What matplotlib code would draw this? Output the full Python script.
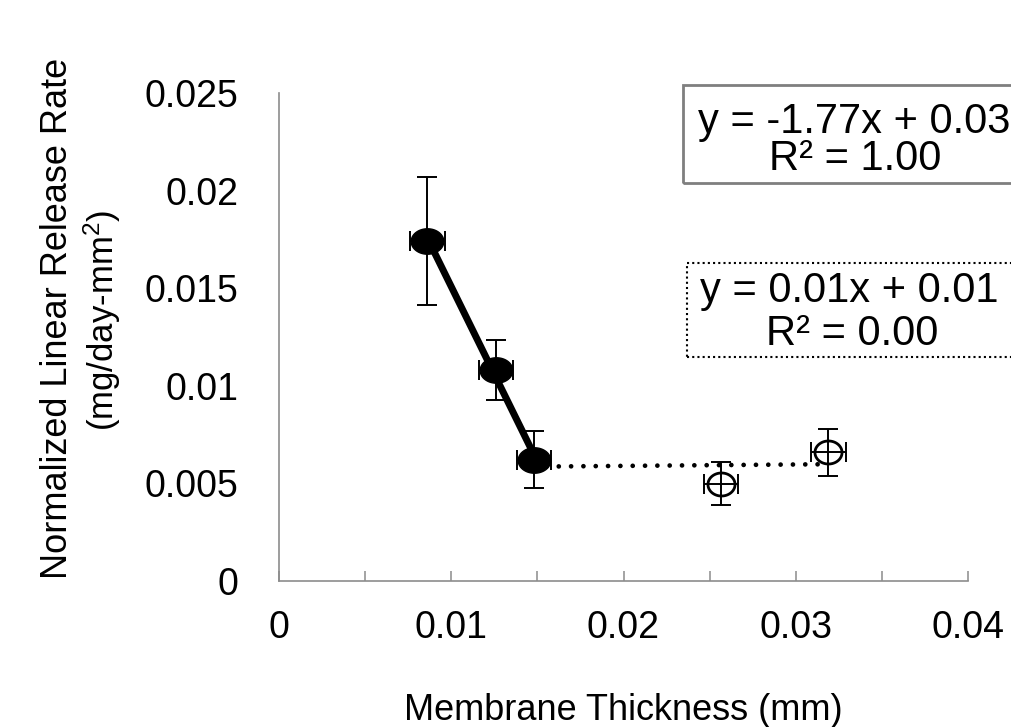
import matplotlib
matplotlib.use("Agg")
import matplotlib.pyplot as plt
import numpy as np
from matplotlib.path import Path
from matplotlib.patches import Rectangle
from matplotlib.ticker import MultipleLocator, FuncFormatter

# data
thick_solid = [0.00862, 0.0126, 0.01481]
rate_solid = [0.01742, 0.0108, 0.00621]
rate_solid_err = [0.0033, 0.00155, 0.00145]

thick_open = [0.02565, 0.0319]
rate_open = [0.00498, 0.00659]
rate_open_err = [0.0011, 0.0012]

thick_err = 0.001

eq_solid = ["y = -1.77x + 0.03", "R\u00b2 = 1.00"]
eq_dotted = ["y = 0.01x + 0.01", "R\u00b2 = 0.00"]

plt.rcParams['font.family'] = ['Liberation Sans', 'DejaVu Sans']
plt.rcParams['mathtext.default'] = 'regular'

W, H = 1011, 727
fig = plt.figure(figsize=(W / 100, H / 100), dpi=100)
ax = fig.add_axes([279 / W, 1 - 581 / H, (968 - 279) / W, (581 - 93) / H])

# elliptical markers (wider than tall)
t = np.linspace(0, 2 * np.pi, 80)
ell_fill = Path(np.column_stack([np.cos(t), 0.78 * np.sin(t)]), closed=True)
ell_open = Path(np.column_stack([np.cos(t), 0.85 * np.sin(t)]), closed=True)

# trendlines
p1 = np.polyfit(thick_solid, rate_solid, 1)
xs = np.array([thick_solid[0], thick_solid[-1]])
ax.plot(xs, np.polyval(p1, xs), color='black', lw=5, zorder=1)

xd = np.array([thick_solid[-1]] + thick_open)
yd = np.array([rate_solid[-1]] + rate_open)
p2 = np.polyfit(xd, yd, 1)
xs2 = np.array([xd.min(), xd.max()])
ax.plot(xs2, np.polyval(p2, xs2), color='black', lw=3.4,
        linestyle=(0, (0.01, 2.6)), dash_capstyle='round', zorder=1)

# markers
ax.plot(thick_solid, rate_solid, linestyle='none', marker=ell_fill,
        markersize=23.5, color='black', zorder=2)
ax.plot(thick_open, rate_open, linestyle='none', marker=ell_open,
        markersize=19.5, markerfacecolor='white', markeredgecolor='black',
        markeredgewidth=2, zorder=2)

# error bars
ax.errorbar(thick_solid, rate_solid, yerr=rate_solid_err, xerr=thick_err,
            fmt='none', ecolor='black', elinewidth=1.4, capsize=7,
            capthick=1.4, zorder=3)
ax.errorbar(thick_open, rate_open, yerr=rate_open_err, xerr=thick_err,
            fmt='none', ecolor='black', elinewidth=1.4, capsize=7,
            capthick=1.4, zorder=3)

ax.set_xlim(0, 0.04)
ax.set_ylim(0, 0.025)

for s in ['top', 'right']:
    ax.spines[s].set_visible(False)
for s in ['left', 'bottom']:
    ax.spines[s].set_color('#8c8c8c')
    ax.spines[s].set_linewidth(1.2)

fmt = FuncFormatter(lambda v, _: f"{v:g}")
ax.xaxis.set_major_locator(MultipleLocator(0.01))
ax.xaxis.set_minor_locator(MultipleLocator(0.005))
ax.xaxis.set_major_formatter(fmt)
ax.yaxis.set_major_locator(MultipleLocator(0.005))
ax.yaxis.set_major_formatter(fmt)

ax.tick_params(axis='x', which='both', direction='in', length=7, width=1.1,
               color='#8c8c8c')
ax.tick_params(axis='x', which='major', labelsize=27, pad=21)
ax.tick_params(axis='y', length=0, labelsize=27, pad=29)

ax.set_xlabel("Membrane Thickness (mm)", fontsize=26, va='baseline')
ax.xaxis.set_label_coords(0.5, (581 - 720) / (581 - 93))

# y label, two lines
fig.text(67 / W, 1 - 318 / H, "Normalized Linear Release Rate", fontsize=26,
         rotation=90, rotation_mode='anchor', ha='center', va='baseline')
fig.text(114 / W, 1 - 320 / H, "(mg/day-mm$^{2}$)", fontsize=25,
         rotation=90, rotation_mode='anchor', ha='center', va='baseline')

# trendline label boxes
fig.add_artist(Rectangle((683 / W, 1 - 183 / H), 500 / W, 98 / H,
                         transform=fig.transFigure, fill=False,
                         edgecolor='#7f7f7f', lw=2))
fig.add_artist(Rectangle((687 / W, 1 - 357 / H), 500 / W, 94 / H,
                         transform=fig.transFigure, fill=False,
                         edgecolor='black', lw=1.5, linestyle=(0, (1, 1.5))))

fig.text(698 / W, 1 - 132.7 / H, eq_solid[0], fontsize=30, ha='left', va='baseline')
fig.text(855 / W, 1 - 170 / H, eq_solid[1], fontsize=30, ha='center', va='baseline')
fig.text(700 / W, 1 - 301.7 / H, eq_dotted[0], fontsize=30, ha='left', va='baseline')
fig.text(852 / W, 1 - 345 / H, eq_dotted[1], fontsize=30, ha='center', va='baseline')

fig.savefig("out.png", dpi=100)
